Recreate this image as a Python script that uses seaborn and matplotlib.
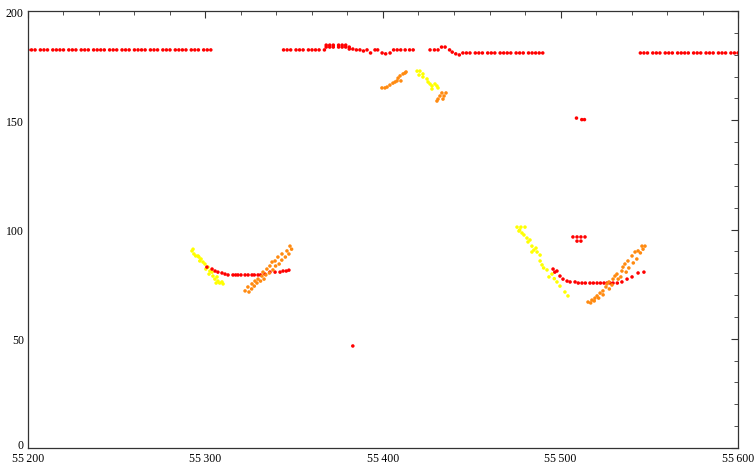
import pandas as pd
import matplotlib
matplotlib.use("Agg")
import matplotlib.pyplot as plt
from matplotlib.ticker import MultipleLocator, FuncFormatter
from matplotlib.transforms import ScaledTranslation
import seaborn as sns

# Linea superior roja (dos niveles)
RED_TOP_HIGH_X = [55200, 55202, 55204, 55207, 55209, 55211, 55214, 55216, 55218, 55220,
                  55223, 55225, 55227, 55230, 55232, 55234, 55237, 55239, 55241, 55243,
                  55246, 55248, 55250, 55253, 55255, 55257, 55260, 55262, 55264, 55266,
                  55269, 55271, 55273, 55276, 55278, 55280, 55283, 55285, 55287, 55289,
                  55292, 55294, 55296, 55299, 55301, 55303,
                  55344, 55346, 55348, 55351, 55353, 55355, 55358, 55360, 55362, 55364,
                  55367, 55385, 55387, 55391, 55395.5, 55397, 55406, 55408, 55410,
                  55412.5, 55415, 55417, 55426.5, 55429, 55431, 55437.5]
RED_TOP_HIGH_Y = 182.2

RED_TOP_LOW_X = [55445, 55447, 55449, 55452, 55454, 55456, 55459, 55461, 55463, 55466,
                 55468, 55470, 55472, 55475, 55477, 55479, 55482, 55484, 55486, 55488,
                 55490,
                 55545, 55547, 55549, 55552, 55554, 55556, 55559, 55561, 55563, 55566,
                 55568, 55570, 55572, 55575, 55577, 55579, 55582, 55584, 55586, 55589,
                 55591, 55593, 55596, 55598, 55600]
RED_TOP_LOW_Y = 180.8

# Puntos rojos irregulares
RED_X = [55368, 55370, 55372, 55375, 55377, 55379, 55381,
         55368, 55370, 55372, 55375, 55377, 55379, 55381,
         55383, 55389, 55393, 55399.5, 55401.5, 55404,
         55433, 55435, 55439, 55441, 55443,
         55383,
         55509, 55512, 55513.5,
         55507.0, 55509.3, 55511.5, 55513.8, 55509.3, 55511.5,
         55300.8, 55303.7, 55305.4, 55307.0, 55309.3, 55311.0, 55312.7, 55315.5, 55317.0,
         55318.3, 55320.0, 55322.3, 55324.0, 55326.2, 55327.5, 55329.6, 55331.0, 55333.5,
         55336.3, 55339.2, 55342.0, 55343.7, 55345.5, 55347.0,
         55495.8, 55496.8, 55498.0, 55499.7, 55501.4, 55503.7, 55505.4, 55508.2, 55510.0,
         55512.1, 55514.0, 55516.6, 55518.5, 55520.6, 55522.5, 55524.5, 55526.2, 55528.0,
         55529.6, 55532.0, 55534.6, 55537.5, 55540.3, 55543.7, 55547.0]
RED_Y = [184.4, 184.4, 184.4, 184.4, 184.4, 184.4, 183.5,
         183.5, 183.5, 183.5, 183.5, 183.5, 183.5, 182.6,
         182.6, 181.7, 180.8, 180.8, 180.4, 180.8,
         183.5, 183.5, 181.2, 180.4, 179.9,
         46.7,
         151.0, 150.3, 150.3,
         96.6, 96.6, 96.6, 96.6, 94.7, 94.7,
         82.8, 81.9, 81.0, 80.5, 80.1, 79.6, 79.2, 79.2, 79.2,
         79.2, 79.2, 79.2, 79.2, 79.2, 79.2, 79.2, 79.2, 79.6,
         80.5, 80.5, 80.5, 81.0, 81.0, 81.4,
         81.9, 80.5, 81.0, 78.7, 77.3, 76.4, 76.0, 76.0, 75.5,
         75.5, 75.5, 75.5, 75.5, 75.5, 75.5, 75.5, 75.5, 75.5,
         75.5, 75.5, 76.0, 77.3, 78.3, 80.1, 80.5]

# Puntos naranjas
ORANGE_X = [55322.3, 55323.9, 55326.2, 55327.9, 55329.6, 55331.8, 55332.4, 55334.6, 55336.3,
            55337.5, 55339.2, 55340.8, 55343.1, 55345.9, 55347.6,
            55324.5, 55326.0, 55327.5, 55329.0, 55331.0, 55333.0, 55334.0, 55336.0, 55338.0,
            55339.5, 55341.5, 55343.0, 55345.0, 55347.0, 55348.5,
            55399.4, 55401.1, 55402.3, 55403.9, 55405.6, 55406.8, 55407.9, 55408.5, 55409.6,
            55410.1, 55411.3, 55412.4, 55413.0,
            55433.2, 55435.5, 55432.1, 55434.4, 55431.0, 55433.8, 55430.4,
            55515.5, 55517.7, 55519.4, 55520.6, 55522.3, 55523.9, 55525.6, 55526.2, 55527.3,
            55529.6, 55530.7, 55531.8, 55534.6, 55535.2, 55536.3, 55538.0, 55540.3, 55542.0,
            55543.7, 55545.9, 55547.6,
            55517.0, 55519.0, 55521.5, 55524.0, 55527.5, 55529.0, 55532.5, 55534.0, 55537.0,
            55538.5, 55541.0, 55543.0, 55545.0, 55546.5]
ORANGE_Y = [71.9, 73.7, 75.1, 76.4, 77.3, 78.7, 80.5, 81.9, 83.3,
            85.1, 85.6, 87.4, 88.8, 90.2, 92.4,
            71.4, 72.8, 74.1, 75.5, 76.4, 77.3, 79.2, 80.1, 81.5,
            83.3, 84.2, 86.0, 87.4, 88.8, 91.0,
            164.8, 164.8, 165.2, 166.1, 167.0, 167.5, 168.0, 169.3, 170.3,
            168.0, 171.2, 171.6, 172.1,
            162.5, 162.5, 161.1, 161.1, 159.7, 159.7, 158.8,
            66.8, 67.7, 68.6, 69.6, 70.9, 71.9, 73.7, 75.1, 76.0,
            77.3, 78.7, 79.6, 81.0, 82.8, 84.2, 85.6, 87.9, 89.7,
            90.2, 92.4, 92.4,
            66.4, 67.3, 68.6, 70.1, 72.8, 74.6, 77.3, 78.3, 80.5,
            82.4, 84.7, 86.5, 89.3, 91.0]

# Puntos amarillos
YELLOW_X = [55292.4, 55293.5, 55295.8, 55296.3, 55297.5, 55298.6, 55299.7, 55301.4, 55302.5,
            55303.7, 55304.2, 55306.5, 55307.0, 55309.3, 55309.9,
            55293.0, 55294.5, 55296.8, 55300.2, 55302.0, 55305.3, 55306.0, 55308.0,
            55419.2, 55420.8, 55420.3, 55422.5, 55422.5, 55424.8, 55425.4, 55426.5, 55427.6,
            55429.3, 55430.4, 55431.0, 55427.6,
            55475.5, 55477.7, 55480.0, 55476.6, 55478.3, 55479.4, 55481.1, 55482.8, 55481.7,
            55483.9, 55486.2, 55483.9, 55486.8, 55488.5, 55488.5, 55489.6, 55492.4, 55495.2,
            55493.5, 55498.0, 55499.7, 55502.5, 55504.2,
            55477.0, 55485.0, 55490.5, 55496.5]
YELLOW_Y = [90.2, 88.8, 87.9, 87.4, 86.5, 85.1, 84.2, 82.8, 81.0,
            80.5, 78.7, 78.3, 76.4, 76.0, 75.1,
            91.0, 87.9, 85.6, 81.9, 79.6, 77.3, 75.5, 75.5,
            172.5, 172.5, 170.7, 171.2, 169.8, 168.9, 167.5, 166.6, 165.7,
            166.6, 165.7, 164.8, 164.3,
            101.1, 101.1, 101.1, 99.3, 98.4, 97.5, 96.1, 95.2, 94.3,
            92.4, 91.5, 89.7, 89.7, 88.3, 85.6, 83.8, 81.5, 79.6,
            78.3, 76.0, 74.1, 71.4, 69.6,
            99.8, 90.6, 82.4, 77.5]

COLORES = {"yellow": "#ffff00", "red": "#ff0000", "orange": "#ff8a10"}


def construir_tabla():
    partes = [
        pd.DataFrame({"x": YELLOW_X, "y": YELLOW_Y, "serie": "yellow"}),
        pd.DataFrame({"x": RED_TOP_HIGH_X, "y": RED_TOP_HIGH_Y, "serie": "red"}),
        pd.DataFrame({"x": RED_TOP_LOW_X, "y": RED_TOP_LOW_Y, "serie": "red"}),
        pd.DataFrame({"x": RED_X, "y": RED_Y, "serie": "red"}),
        pd.DataFrame({"x": ORANGE_X, "y": ORANGE_Y, "serie": "orange"}),
    ]
    return pd.concat(partes, ignore_index=True)


df = construir_tabla()

sns.set_style("white")
plt.rcParams["font.family"] = ["Liberation Serif", "DejaVu Serif"]

fig = plt.figure(figsize=(7.54, 4.64), dpi=100)
ax = fig.add_axes([0.0371, 0.0323, 0.9417, 0.9418])

sns.scatterplot(data=df, x="x", y="y", hue="serie", palette=COLORES,
                hue_order=["yellow", "red", "orange"], s=6.5, linewidth=0,
                marker="o", legend=False, ax=ax)

ax.set_xlim(55200, 55600)
ax.set_ylim(0, 200)
ax.set_xlabel("")
ax.set_ylabel("")

ax.xaxis.set_major_locator(MultipleLocator(100))
ax.xaxis.set_minor_locator(MultipleLocator(20))
ax.yaxis.set_major_locator(MultipleLocator(50))
ax.yaxis.set_minor_locator(MultipleLocator(10))
ax.xaxis.set_major_formatter(FuncFormatter(lambda v, p: f"{int(v):,}".replace(",", "\u2009")))

ax.tick_params(which="both", direction="in", top=True, right=True,
               colors="#333333", labelcolor="black", labelsize=8.5)
ax.tick_params(axis="x", which="major", pad=3)
ax.tick_params(axis="y", which="major", pad=3)
ax.tick_params(which="major", length=5, width=0.8)
ax.tick_params(which="minor", length=3, width=0.6)

for lado in ax.spines.values():
    lado.set_visible(True)
    lado.set_color("#333333")
    lado.set_linewidth(0.9)

# el "0" del eje y sube un poco para no pisar "55 200"
fig.canvas.draw()
for etiqueta in ax.get_yticklabels():
    if etiqueta.get_text() == "0":
        etiqueta.set_transform(etiqueta.get_transform() + ScaledTranslation(0, 3 / 72, fig.dpi_scale_trans))

fig.savefig("out.png", dpi=100)
plt.close(fig)
